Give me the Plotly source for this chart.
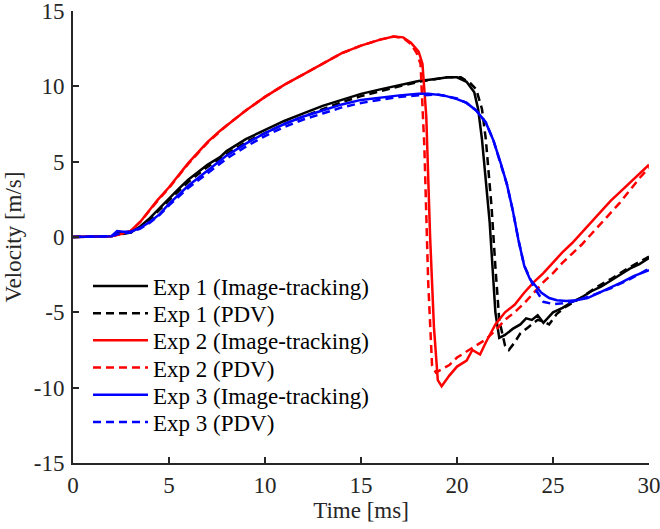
import plotly.graph_objects as go

# ---- data (time in ms, velocity in m/s) ----
exp1_img_t = [0, 1, 2, 2.4, 2.6, 3, 3.5, 4, 4.5, 5, 5.5, 6, 6.5, 7, 7.66, 8, 9, 10, 11, 12, 13, 14, 15, 16, 17, 18, 19, 19.5, 20, 20.5, 20.9, 21.1, 21.3, 21.5, 21.7, 21.85, 22.0, 22.2, 22.5, 22.9, 23.3, 23.6, 23.9, 24.2, 24.5, 25.0, 25.5, 26, 26.5, 27, 27.5, 28, 28.5, 29, 29.5, 30]
exp1_img_v = [0, 0, 0.05, 0.3, 0.2, 0.3, 0.7, 1.25, 1.9, 2.6, 3.2, 3.8, 4.3, 4.8, 5.3, 5.7, 6.5, 7.1, 7.7, 8.2, 8.7, 9.1, 9.5, 9.8, 10.1, 10.35, 10.5, 10.6, 10.6, 10.3, 9.6, 8.5, 6.5, 3.5, 1.0, -2.0, -5.0, -6.7, -6.5, -6.1, -5.8, -5.4, -5.5, -5.2, -5.7, -5.0, -4.7, -4.3, -4.0, -3.6, -3.3, -2.9, -2.5, -2.1, -1.8, -1.4]

exp1_pdv_t = [0, 1, 2, 2.5, 3, 3.5, 4, 4.5, 5, 5.5, 6, 6.5, 7, 8, 9, 10, 11, 12, 13, 14, 15, 16, 17, 18, 19, 19.5, 20.2, 20.7, 21.0, 21.3, 21.5, 21.8, 22.0, 22.2, 22.5, 22.7, 23.0, 23.3, 23.7, 24.2, 24.5, 24.8, 25.2, 25.7, 26.5, 27.3, 28, 29, 30]
exp1_pdv_v = [0, 0, 0.05, 0.25, 0.3, 0.65, 1.15, 1.8, 2.45, 3.05, 3.65, 4.15, 4.65, 5.5, 6.3, 6.9, 7.5, 8.0, 8.5, 8.95, 9.35, 9.7, 10.0, 10.3, 10.5, 10.6, 10.6, 10.2, 9.8, 8.5, 6.5, 2.0, -2.0, -5.5, -7.2, -7.5, -7.0, -6.4, -6.0, -5.5, -5.6, -5.8, -5.1, -4.6, -4.0, -3.3, -2.8, -2.0, -1.3]

exp2_img_t = [0, 1, 2, 2.5, 3, 3.5, 4, 4.4, 5, 5.5, 6, 6.5, 7, 7.66, 8, 9, 10, 11, 12, 13, 13.5, 14, 15, 16, 16.7, 17.2, 17.6, 18, 18.2, 18.4, 18.6, 18.8, 19.0, 19.2, 19.6, 20, 20.5, 20.8, 21.2, 21.5, 22, 22.5, 23, 23.5, 24, 24.5, 25, 25.5, 26, 26.5, 27, 27.5, 28, 28.5, 29, 29.5, 30]
exp2_img_v = [0, 0, 0.05, 0.2, 0.4, 1.0, 1.8, 2.45, 3.3, 4.1, 4.9, 5.6, 6.3, 7.05, 7.4, 8.4, 9.3, 10.1, 10.8, 11.5, 11.9, 12.2, 12.7, 13.1, 13.3, 13.25, 12.9, 12.3, 11.5, 8.0, 0.0, -6.0, -9.5, -9.9, -9.2, -8.6, -8.2, -7.5, -7.8, -7.0, -5.8, -5.0, -4.5, -3.7, -3.0, -2.4, -1.7, -1.0, -0.4, 0.3, 1.0, 1.7, 2.4, 3.0, 3.6, 4.2, 4.8]

exp2_pdv_t = [0, 1, 2, 2.5, 3, 3.5, 4, 4.4, 5, 5.5, 6, 6.5, 7, 8, 9, 10, 11, 12, 13, 14, 15, 16, 16.7, 17.2, 17.6, 17.9, 18.1, 18.3, 18.5, 18.7, 18.9, 19.2, 19.6, 20, 20.5, 21, 21.5, 22, 22.5, 23, 23.5, 24, 24.5, 25, 25.5, 26, 26.5, 27, 27.5, 28, 28.5, 29, 29.5, 30]
exp2_pdv_v = [0, 0, 0.05, 0.2, 0.4, 1.0, 1.8, 2.4, 3.25, 4.05, 4.85, 5.55, 6.25, 7.4, 8.4, 9.3, 10.1, 10.8, 11.5, 12.2, 12.7, 13.1, 13.3, 13.2, 12.8, 12.2, 11.5, 6.0, -3.0, -8.5, -9.0, -8.8, -8.5, -8.0, -7.6, -7.2, -6.8, -6.2, -5.5, -5.0, -4.4, -3.7, -3.0, -2.4, -1.7, -1.1, -0.5, 0.2, 0.9, 1.6, 2.3, 3.1, 3.9, 4.6]

exp3_img_t = [0, 1, 2, 2.3, 2.6, 3, 3.5, 4, 4.5, 5, 5.5, 6, 6.5, 7, 7.66, 8, 9, 10, 11, 12, 13, 14, 15, 16, 17, 18, 18.5, 19.3, 20, 20.5, 21, 21.5, 21.9, 22.3, 22.6, 22.9, 23.2, 23.5, 23.8, 24.0, 24.4, 24.8, 25.2, 25.7, 26.2, 26.8, 27.4, 28.1, 28.6, 29.2, 29.6, 30]
exp3_img_v = [0, 0, 0.05, 0.4, 0.35, 0.35, 0.6, 1.0, 1.5, 2.2, 2.8, 3.4, 3.9, 4.4, 5.1, 5.4, 6.2, 6.9, 7.5, 8.0, 8.4, 8.8, 9.1, 9.25, 9.4, 9.5, 9.5, 9.4, 9.15, 8.9, 8.4, 7.6, 6.4, 4.8, 3.5, 1.8, -0.2, -1.9, -2.8, -3.1, -3.7, -4.05, -4.2, -4.25, -4.2, -4.05, -3.7, -3.3, -3.0, -2.6, -2.4, -2.2]

exp3_pdv_t = [0, 1, 2, 2.5, 3, 3.5, 4, 4.5, 5, 6, 7, 8, 9, 10, 11, 12, 13, 14, 15, 16, 17, 18, 19, 20, 20.5, 21, 21.5, 21.9, 22.3, 22.6, 22.9, 23.2, 23.5, 24, 24.5, 25, 25.5, 26, 27, 28, 29, 30]
exp3_pdv_v = [0, 0, 0.05, 0.25, 0.3, 0.55, 0.95, 1.45, 2.1, 3.25, 4.2, 5.2, 6.0, 6.7, 7.3, 7.8, 8.2, 8.6, 8.9, 9.1, 9.3, 9.4, 9.45, 9.2, 8.9, 8.4, 7.6, 6.4, 4.8, 3.5, 1.8, -0.2, -1.9, -3.3, -4.3, -4.45, -4.4, -4.3, -3.9, -3.4, -2.8, -2.1]

x_ticks = [0, 5, 10, 15, 20, 25, 30]
x_ticktext = ["0", "5", "10", "15", "20", "25", "30"]
y_ticks = [-15, -10, -5, 0, 5, 10, 15]
y_ticktext = ["-15", "-10", "-5", "0", "5", "10", "15"]

series = [
    ("Exp 1 (Image-tracking)", exp1_img_t, exp1_img_v, "#000000", "solid"),
    ("Exp 1 (PDV)", exp1_pdv_t, exp1_pdv_v, "#000000", "8px,5px"),
    ("Exp 2 (Image-tracking)", exp2_img_t, exp2_img_v, "#FF0000", "solid"),
    ("Exp 2 (PDV)", exp2_pdv_t, exp2_pdv_v, "#FF0000", "8px,5px"),
    ("Exp 3 (Image-tracking)", exp3_img_t, exp3_img_v, "#0000FF", "solid"),
    ("Exp 3 (PDV)", exp3_pdv_t, exp3_pdv_v, "#0000FF", "8px,5px"),
]

FONT = "Liberation Serif"
FS = 23

# plot-area geometry (pixels) used to place legend rows
PL, PT, PW, PH = 73, 11, 576, 452
leg_x_px = 88
leg_row0_px = 286
leg_row_step = 27.2

fig = go.Figure()
legend_layouts = {}
for i, (name, t, v, c, d) in enumerate(series):
    lname = "legend" if i == 0 else f"legend{i + 1}"
    fig.add_trace(go.Scatter(x=t, y=v, mode="lines", name=name, legend=lname,
                             line=dict(color=c, width=2.5, dash=d)))
    yc = leg_row0_px + i * leg_row_step
    legend_layouts[lname] = dict(
        x=(leg_x_px - PL) / PW, y=(PT + PH - yc) / PH,
        xanchor="left", yanchor="middle",
        bgcolor="rgba(0,0,0,0)", borderwidth=0,
        font=dict(family=FONT, size=FS, color="#000000"),
        itemwidth=55,
    )

axis_common = dict(
    showline=True, linecolor="#262626", linewidth=2,
    ticks="inside", ticklen=6, tickwidth=2, tickcolor="#262626",
    showgrid=False, zeroline=False, mirror=False, automargin=False,
    ticklabeloverflow="allow",
    tickfont=dict(family=FONT, size=FS, color="#262626"),
)

fig.update_layout(
    width=660, height=529,
    margin=dict(l=PL, r=660 - PL - PW, t=PT, b=529 - PT - PH),
    paper_bgcolor="white", plot_bgcolor="white",
    font=dict(family=FONT, size=FS, color="#262626"),
    xaxis=dict(range=[0, 30], tickvals=x_ticks, ticktext=x_ticktext,
               title=dict(text="Time [ms]", font=dict(family=FONT, size=FS, color="#262626"), standoff=4),
               **axis_common),
    yaxis=dict(range=[-15, 15], tickvals=y_ticks, ticktext=y_ticktext,
               ticklabelstandoff=2,
               title=dict(text="Velocity [m/s]", font=dict(family=FONT, size=FS, color="#262626"), standoff=6),
               **axis_common),
    showlegend=True,
    **legend_layouts,
)

fig.write_html("out.html")
